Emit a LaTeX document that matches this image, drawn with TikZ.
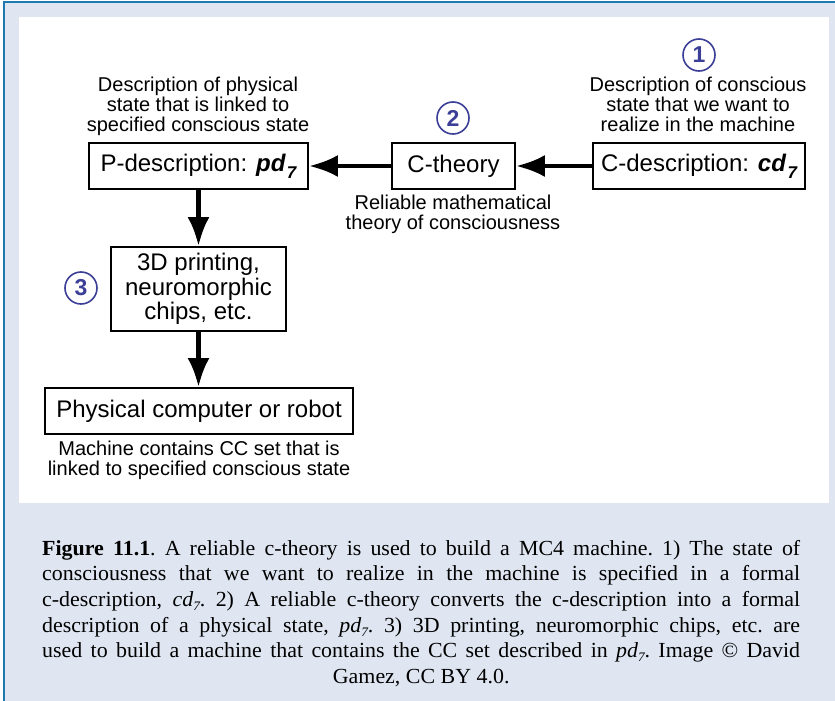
\documentclass[tikz,border=0pt]{standalone}
\usepackage{fontspec}
\setmainfont{Liberation Sans}
\newfontfamily\capfont{Liberation Serif}[FakeStretch=1.02]
\usetikzlibrary{arrows.meta}
\definecolor{bgblue}{HTML}{DFE6F1}
\definecolor{frameblue}{HTML}{1F78B0}
\definecolor{numblue}{HTML}{3C3F97}
\newcommand{\sevensub}{\kern1.5pt\raisebox{-7pt}{\fontsize{17}{17}\selectfont 7}}
\newcommand{\capsub}{\raisebox{-4pt}{\fontsize{13}{13}\selectfont 7}}
\begin{document}
\begin{tikzpicture}[x=1pt,y=-1pt,
  box/.style={draw=black, line width=1.8pt, fill=white, inner sep=0pt, align=center,
    font=\fontsize{24}{24.5}\selectfont},
  desc/.style={inner sep=0pt, align=center, font=\fontsize{20}{20}\selectfont},
  num/.style={circle, draw=numblue, line width=1.6pt, minimum size=32pt, inner sep=0pt,
    text=numblue, font=\fontsize{23}{23}\selectfont\bfseries},
  flow/.style={line width=4.5pt, -{Latex[length=29pt,width=22pt]}},
]
\useasboundingbox (0,0) rectangle (835,701);
\fill[white] (0,0) rectangle (835,701);
\fill[bgblue] (4,2) rectangle (835,701);
\fill[white] (19,17) rectangle (829,503);
\draw[frameblue, line width=1.5pt] (4,701) -- (4,2) -- (835,2);

% boxes
\node[box, minimum width=219pt, minimum height=46pt] (pdesc) at (198.5,166)
  {P-description: {\bfseries\itshape pd\sevensub}};
\node[box, minimum width=123pt, minimum height=46pt] (ctheory) at (453.5,166) {C-theory};
\node[box, minimum width=212pt, minimum height=46pt] (cdesc) at (699,166)
  {C-description: {\bfseries\itshape cd\sevensub}};
\node[box, minimum width=175pt, minimum height=84pt] (printing) at (198.5,289)
  {3D printing,\\neuromorphic\\chips, etc.};
\node[box, minimum width=308pt, minimum height=46pt] (robot) at (199,411)
  {Physical computer or robot};

% descriptions
\node[desc] (cdesctext) at (698,104) {Description of conscious\\state that we want to\\realize in the machine};
\node[desc] (pdesctext) at (198,106) {Description of physical\\state that is linked to\\specified conscious state};
\node[desc] (theorytext) at (453,214) {Reliable mathematical\\theory of consciousness};
\node[desc] (robottext) at (199,460) {Machine contains CC set that is\\linked to specified conscious state};

% numbers
\node[num] (n1) at (699,55) {1};
\node[num] (n2) at (453,118) {2};
\node[num] (n3) at (81,288) {3};

% connectors
\draw[flow] (cdesc.west) -- (ctheory.east);
\draw[flow] (ctheory.west) -- (pdesc.east);
\draw[flow] (pdesc.south) -- (printing.north);
\draw[flow] (printing.south) -- (printing.south |- robot.north);

% caption
\node[anchor=north west, inner sep=0pt] (caption) at (42,540) {\parbox{758pt}{\capfont\fontsize{21.5}{25.6}\selectfont
\frenchspacing\parindent=0pt\parfillskip=0pt
{\bfseries Figure 11.1}. A reliable c-theory is used to build a MC4 machine. 1) The state of\linebreak
consciousness that we want to realize in the machine is specified in a formal\linebreak
c-description, \textit{cd\capsub}. 2) A reliable c-theory converts the c-description into a formal\linebreak
description of a physical state, \textit{pd\capsub}. 3) 3D printing, neuromorphic chips, etc. are\linebreak
used to build a machine that contains the CC set described in \textit{pd\capsub}. Image © David\par
{\centering Gamez, CC BY 4.0.\par}}};
\end{tikzpicture}
\end{document}
